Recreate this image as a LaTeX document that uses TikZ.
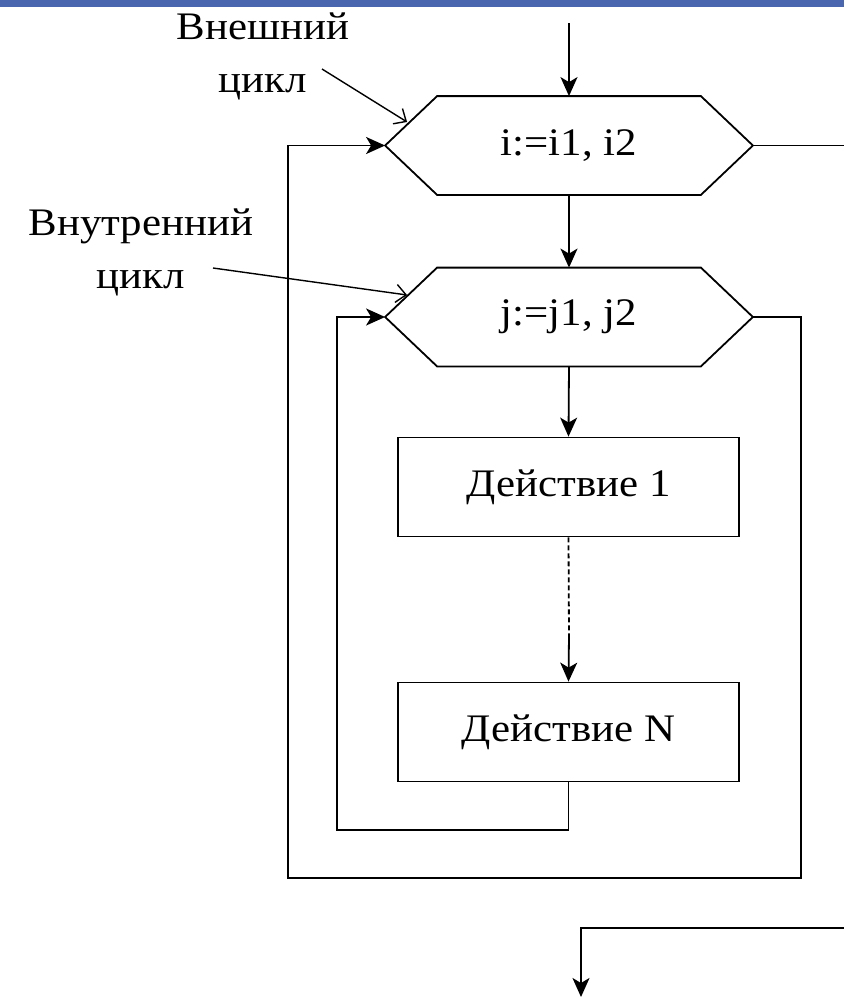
\documentclass[tikz,border=0pt]{standalone}
\usepackage{fontspec}
\setmainfont{Liberation Serif}[FakeStretch=1.1]
\usepackage{tikz}
\usetikzlibrary{arrows.meta,calc}
\definecolor{barcol}{HTML}{4A66AE}
\tikzset{
  txt/.style={font=\fontsize{39}{53}\selectfont,inner sep=0pt},
  loophex/.style={rectangle,minimum width=366pt,minimum height=97pt,inner sep=0pt,txt},
  actbox/.style={draw,rectangle,minimum width=341pt,minimum height=99pt,inner sep=0pt,txt},
  flow/.style={-{Stealth[length=19pt,width=17pt,inset=5pt]}},
  pointer/.style={-{Straight Barb[length=10pt,width=18pt]},line width=1.4pt}
}
\begin{document}
\begin{tikzpicture}[x=1pt,y=-1pt,line width=1.8pt]
  \useasboundingbox (0,0) rectangle (844,997);
  \fill[barcol] (0,0) rectangle (844,7);
  % blocks of the two nested loops
  \node[loophex] (hexi) at (569,145.5) {i:=i1, i2};
  \node[loophex] (hexj) at (569,317) {j:=j1, j2};
  \foreach \h in {hexi,hexj}
    \draw ($(\h.north west)+(52,0)$) -- ($(\h.north east)+(-52,0)$) -- (\h.east)
      -- ($(\h.south east)+(-52,0)$) -- ($(\h.south west)+(52,0)$) -- (\h.west) -- cycle;
  \node[actbox] (act1) at (568.5,487) {Действие 1};
  \node[actbox] (actn) at (568.5,732) {Действие N};
  % captions
  \node[txt,align=center] (outerlbl) at (263,56) {Внешний\\цикл};
  \node[txt,align=center] (innerlbl) at (141,252) {Внутренний\\цикл};
  % free ends of the connectors
  \coordinate (start) at (569,23);
  \coordinate (dashend) at (569,635);
  \coordinate (innerbot) at (337,830);
  \coordinate (outerbr) at (801,878);
  \coordinate (outerbl) at (288,878);
  \coordinate (exitr) at (844,145.5);
  \coordinate (backr) at (844,928);
  \coordinate (finish) at (581,997);
  % main flow
  \draw[flow] (start) -- (hexi.north);
  \foreach \a/\b in {hexi/hexj,hexj/act1}
    \draw[flow] (\a.south) -- (\b.north);
  \draw[dash pattern=on 5pt off 3pt] (act1.south) -- (dashend);
  \draw[flow] (dashend) -- (actn.north);
  % loop returns and exits
  \draw[flow] (actn.south) |- (innerbot) |- (hexj.west);
  \draw[flow] (hexj.east) -| (outerbr) -- (outerbl) |- (hexi.west);
  \draw (hexi.east) -- (exitr);
  \draw[flow] (backr) -| (finish);
  % pointers from the captions
  \draw[pointer] ($(outerlbl.center)+(59,13)$) -- ($(hexi.west)+(22,-23.5)$);
  \draw[pointer] ($(innerlbl.center)+(72,16)$) -- ($(hexj.west)+(22,-22)$);
\end{tikzpicture}
\end{document}
